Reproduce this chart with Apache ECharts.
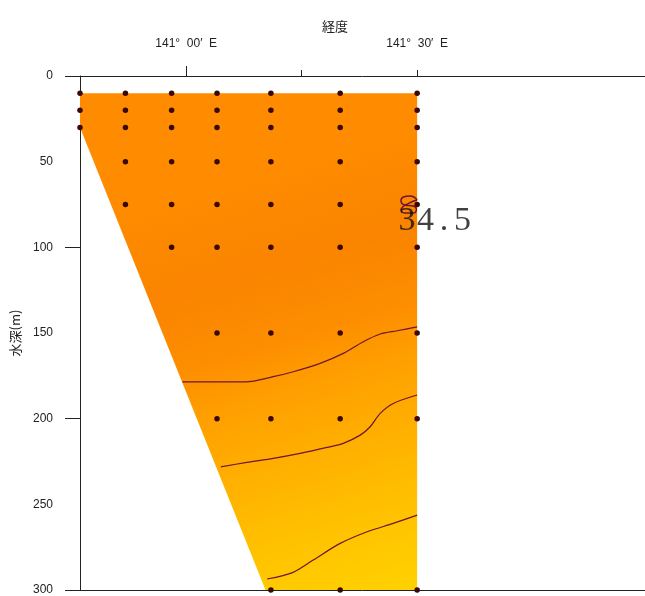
<!DOCTYPE html>
<html>
<head>
<meta charset="utf-8">
<script src="https://cdn.jsdelivr.net/npm/echarts@6/dist/echarts.min.js"></script>
<style>
html,body{margin:0;padding:0;background:#fff;}
#chart{width:645px;height:596px;}
</style>
</head>
<body>
<div id="chart"></div>
<script>
// ---- data (longitude in minutes east of 141°00'E, depth in m) ----
const stationLon = [-13.8, -7.9, -1.9, 4.0, 11.0, 20.0, 30.0];
const stationDepths = [
  [10, 20, 30],
  [10, 20, 30, 50, 75],
  [10, 20, 30, 50, 75, 100],
  [10, 20, 30, 50, 75, 100, 150, 200],
  [10, 20, 30, 50, 75, 100, 150, 200, 300],
  [10, 20, 30, 50, 75, 100, 150, 200, 300],
  [10, 20, 30, 50, 75, 100, 150, 200, 300]
];
const sectionOutline = [[-13.8, 10], [30, 10], [30, 300], [10.3, 300], [-13.8, 30]];
const contour1 = [[-0.5, 178.5], [7.7, 178.5], [11.3, 175.5], [13.9, 172.6], [17.4, 167.7], [20.4, 161.9], [23.0, 155.1], [25.2, 150.6], [27.4, 148.7], [30.0, 146.4]];
const contour2 = [[4.5, 228.1], [7.9, 225.5], [11.3, 223.2], [14.8, 220.3], [18.3, 216.8], [20.4, 214.4], [22.6, 209.6], [23.9, 204.7], [25.2, 196.9], [26.9, 191.1], [30.0, 186.2]];
const contour3 = [[10.5, 293.6], [13.9, 289.7], [16.5, 282.5], [20.0, 272.8], [23.5, 266.0], [26.9, 261.1], [30.0, 256.3]];
const contourLoop = [[30.0, 72.4], [29.1, 70.1], [28.2, 70.6], [27.9, 73.0], [28.4, 75.3], [29.5, 75.9], [29.9, 77.6], [29.5, 80.0], [28.4, 80.0], [27.9, 78.2]];
const contourLabels = [[27.4, 84.6, '34.5']];
const lonTickLabels = { 0: '141°  00′  E', 30: '141°  30′  E' };
const depthTicks = [0, 100, 200, 300];

// ---- build ----
const stationPoints = [];
stationLon.forEach((lon, i) => stationDepths[i].forEach(d => stationPoints.push([lon, d])));

const chart = echarts.init(document.getElementById('chart'), null, { renderer: 'canvas' });
const axisColor = '#222';
const option = {
  animation: false,
  backgroundColor: '#fff',
  grid: { left: 80, right: 0, top: 76, bottom: 6, containLabel: false },
  graphic: [{
    type: 'text', left: 322, top: 20,
    style: { text: '経度', fontSize: 13, fill: '#222', fontFamily: 'Noto Sans CJK JP' }
  }],
  xAxis: [{
    type: 'value', position: 'top', min: -13.8, max: 59.6,
    axisLine: { show: true, onZero: false, lineStyle: { color: axisColor, width: 1 } },
    axisTick: { show: true, customValues: [15, 30], length: 6, lineStyle: { color: axisColor } },
    axisLabel: {
      show: true, customValues: [0, 30], margin: 26, fontSize: 12, color: '#222',
      fontFamily: 'Liberation Sans',
      formatter: v => lonTickLabels[Math.round(v)] || ''
    },
    splitLine: { show: false }
  }, {
    type: 'value', position: 'top', min: -13.8, max: 59.6,
    axisLine: { show: false, onZero: false },
    axisTick: { show: true, customValues: [0], length: 10, lineStyle: { color: axisColor } },
    axisLabel: { show: false },
    splitLine: { show: false }
  }, {
    type: 'value', position: 'bottom', min: -13.8, max: 59.6,
    axisLine: { show: true, onZero: false, lineStyle: { color: axisColor, width: 1 } },
    axisTick: { show: false },
    axisLabel: { show: false },
    splitLine: { show: false }
  }],
  yAxis: {
    type: 'value', inverse: true, min: 0, max: 300, interval: 50,
    name: '水深(m)', nameLocation: 'middle', nameRotate: 90, nameGap: 58,
    nameTextStyle: { fontSize: 13, color: '#222', fontFamily: 'Noto Sans CJK JP' },
    axisLine: { show: true, onZero: false, lineStyle: { color: axisColor, width: 1 } },
    axisTick: { show: true, customValues: depthTicks, length: 15, lineStyle: { color: axisColor } },
    axisLabel: { margin: 27, fontSize: 12, color: '#222', fontFamily: 'Liberation Sans' },
    splitLine: { show: false }
  },
  series: [
    {
      type: 'custom', name: 'section', z: 1, silent: true,
      data: [0],
      renderItem: function (params, api) {
        const pts = sectionOutline.map(p => api.coord(p));
        const s = api.coord([15, 43]);
        const e = api.coord([32.5, 306]);
        return {
          type: 'polygon',
          shape: { points: pts },
          style: {
            fill: new echarts.graphic.LinearGradient(s[0], s[1], e[0], e[1], [
              { offset: 0, color: 'rgb(255,140,0)' },
              { offset: 0.22, color: 'rgb(250,132,0)' },
              { offset: 0.38, color: 'rgb(253,142,0)' },
              { offset: 0.48, color: 'rgb(255,158,0)' },
              { offset: 0.6, color: 'rgb(255,172,0)' },
              { offset: 0.74, color: 'rgb(255,188,0)' },
              { offset: 0.86, color: 'rgb(255,200,0)' },
              { offset: 1, color: 'rgb(255,212,0)' }
            ], true),
            stroke: null
          }
        };
      }
    },
    ...[contour1, contour2, contour3].map(c => ({
      type: 'line', data: c, smooth: 0.3, symbol: 'none', z: 2, silent: true,
      lineStyle: { color: '#6e1530', width: 1.2 }
    })),
    {
      type: 'line', data: contourLoop.concat([contourLoop[0]]), smooth: 0.5, symbol: 'none', z: 3, silent: true,
      lineStyle: { color: '#6e1530', width: 1.5 }
    },
    {
      type: 'scatter', data: stationPoints, symbolSize: 5.5, z: 4, silent: true,
      itemStyle: { color: '#3a0808', opacity: 1 }
    },
    {
      type: 'scatter', data: contourLabels, symbolSize: 1, z: 5, silent: true,
      itemStyle: { color: 'rgba(0,0,0,0)' },
      label: {
        show: true, position: 'right', distance: 0,
        formatter: p => p.value[2].split('').map(ch => '{c|' + ch + '}').join(''),
        rich: {
          c: { width: 18.5, align: 'center', fontSize: 34, fontFamily: 'Liberation Serif', color: '#111' }
        }
      }
    }
  ]
};
chart.setOption(option);
</script>
</body>
</html>
